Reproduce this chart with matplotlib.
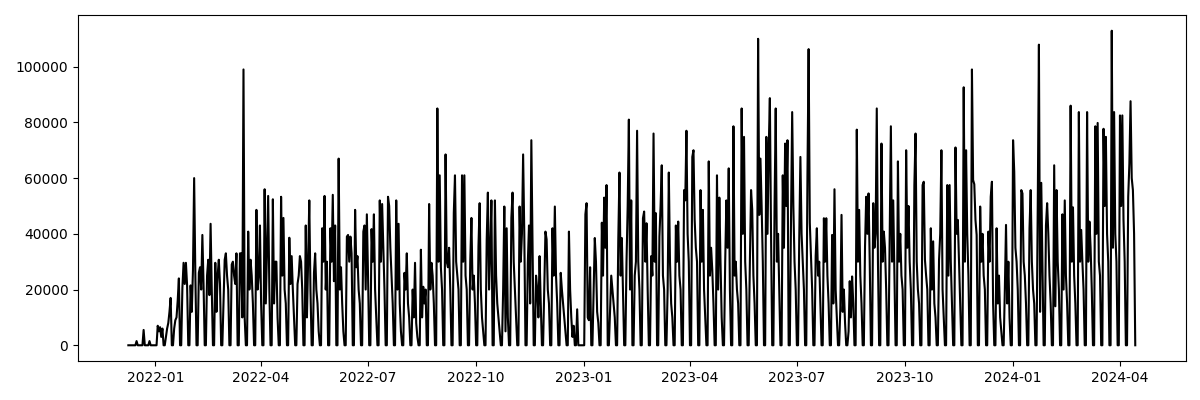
import matplotlib
matplotlib.use("Agg")
import matplotlib.pyplot as plt
import numpy as np
import pandas as pd

# daily values in thousands, one row per week (Mon..Sun), weekends are zero
# first row starts on Thursday 2021-12-09, last row ends on Sunday 2024-04-14
start_date = "2021-12-09"
weeks_k = [
    [0, 0, 0, 0],
    [0, 0, 0, 1.5, 0, 0, 0],
    [0, 0, 5.5, 0, 0, 0, 0],
    [1.5, 0, 0, 0, 0, 0, 0],
    [7, 5, 6.5, 3, 6, 0, 0],
    [3, 6, 8, 12, 17, 0, 0],
    [6, 9, 10, 16, 24, 0, 0],
    [20.6, 29.6, 22, 29.6, 21.5, 0, 0],
    [21.5, 12, 27, 60, 26, 0, 0],
    [26, 28, 20, 39.6, 22, 0, 0],
    [25, 30.7, 18, 43.6, 20, 0, 0],
    [29.6, 12, 25, 30.7, 22, 0, 0],
    [15, 30.7, 33, 25, 20, 0, 0],
    [29, 30, 25, 22, 33, 0, 0],
    [33, 33, 10, 99, 10, 0, 0],
    [40.8, 20, 30.7, 25, 15, 0, 0],
    [48.6, 20, 25, 43, 15, 0, 0],
    [56, 15, 35, 53.6, 20, 0, 0],
    [52.4, 15, 30, 30, 10, 0, 0],
    [53.3, 25, 45.7, 20, 15, 0, 0],
    [38.6, 22, 32, 20, 10, 0, 0],
    [22, 25, 32, 30, 20, 0, 0],
    [43, 10, 30, 52, 20, 0, 0],
    [26, 33, 20, 15, 5, 0, 0],
    [42, 30, 53.6, 20, 30, 0, 0],
    [42, 30, 54, 23, 43, 0, 0],
    [67, 20, 28, 15, 5, 0, 0],
    [39, 39.6, 30, 39, 33, 0, 0],
    [48.6, 28, 32, 20, 15, 0, 0],
    [40.8, 43, 20, 47, 25, 0, 0],
    [41.7, 30, 47, 20, 10, 0, 0],
    [52, 30, 50.7, 35, 20, 0, 0],
    [53.3, 50, 35, 25, 15, 0, 0],
    [52, 20, 43.6, 15, 5, 0, 0],
    [26, 20, 33, 15, 10, 0, 0],
    [20, 10, 29.6, 8, 3, 0, 0],
    [34.3, 10, 21, 15, 20, 0, 0],
    [50.7, 20, 29.6, 25, 15, 0, 0],
    [85, 30, 61, 28, 20, 0, 0],
    [68.5, 30, 28, 35, 20, 0, 0],
    [47.5, 61, 30, 25, 20, 0, 0],
    [61, 30, 61, 25, 20, 0, 0],
    [30, 45.7, 20, 25, 15, 0, 0],
    [35.5, 51, 20, 10, 5, 0, 0],
    [37.8, 54.8, 20, 34.3, 52, 0, 0],
    [52, 25, 15, 10, 5, 0, 0],
    [20, 49.8, 5, 42, 10, 0, 0],
    [45.7, 54.8, 30, 20, 10, 0, 0],
    [49.8, 30, 40, 68.5, 40, 0, 0],
    [29.6, 43, 15, 73.6, 35, 0, 0],
    [25, 20, 10, 32, 15, 0, 0],
    [21, 40.8, 38, 20, 15, 0, 0],
    [42, 25, 49.8, 25, 15, 0, 0],
    [26, 20, 15, 10, 5, 0, 0],
    [40.8, 20, 10, 3, 7, 0, 0],
    [12.9, 0, 0, 0, 0, 0, 0],
    [47, 51, 10, 9, 28, 0, 0],
    [20, 38.5, 30, 12, 8, 0, 0],
    [44, 25, 53, 35, 57.5, 0, 0],
    [12, 25, 20, 15, 10, 0, 0],
    [38, 62, 25, 38.5, 20, 0, 0],
    [30, 50, 81, 20, 52, 0, 0],
    [25, 30, 77, 30, 20, 0, 0],
    [45.6, 48, 30, 43.8, 20, 0, 0],
    [32, 25, 76, 30, 47.4, 0, 0],
    [39, 50, 64.6, 25, 20, 0, 0],
    [20, 62, 30, 15, 10, 0, 0],
    [43, 30, 44.4, 25, 20, 0, 0],
    [55.7, 52, 77, 40, 30, 0, 0],
    [67.6, 70, 45, 35, 30, 0, 0],
    [55.7, 30, 48.6, 20, 10, 0, 0],
    [66, 25, 35, 27, 15, 0, 0],
    [61, 20, 53, 30, 10, 0, 0],
    [30, 52, 35, 63.5, 20, 0, 0],
    [78.6, 25, 30, 20, 15, 0, 0],
    [85, 40, 74.8, 30, 20, 0, 0],
    [30, 55.7, 48.6, 25, 15, 0, 0],
    [110, 46.8, 67, 50, 30, 0, 0],
    [74.8, 40, 70, 88.7, 40, 0, 0],
    [50, 85, 30, 40, 20, 0, 0],
    [61, 35, 72.4, 50, 73.6, 0, 0],
    [45, 83.7, 50, 30, 20, 0, 0],
    [37.8, 67.6, 40, 30, 20, 0, 0],
    [61, 106.3, 44, 32, 20, 0, 0],
    [32, 42, 25, 30, 15, 0, 0],
    [45.6, 30, 45.6, 25, 15, 0, 0],
    [39.6, 15, 56, 20, 10, 0, 0],
    [13.5, 46.8, 12, 20, 8, 0, 0],
    [5, 23, 10, 24.7, 15, 0, 0],
    [77.4, 30, 48.6, 25, 15, 0, 0],
    [35.5, 53.3, 40, 54.5, 30, 0, 0],
    [51, 35, 40, 85, 30, 0, 0],
    [72.4, 30, 40.8, 35, 20, 0, 0],
    [40, 78.6, 30, 52, 25, 0, 0],
    [66, 30, 40, 25, 20, 0, 0],
    [70, 35, 50, 30, 20, 0, 0],
    [57.5, 76, 30, 20, 15, 0, 0],
    [57.5, 58.7, 30.7, 25, 20, 0, 0],
    [42, 20, 37.3, 15, 10, 0, 0],
    [30.7, 40, 70, 20, 10, 0, 0],
    [57.5, 25, 57.5, 30, 15, 0, 0],
    [71, 40, 45, 30, 15, 0, 0],
    [92.6, 30, 70, 40, 25, 0, 0],
    [99, 59.3, 57.8, 45, 39.6, 0, 0],
    [49.8, 30, 40, 25, 20, 0, 0],
    [40.8, 30, 53.3, 58.7, 15, 0, 0],
    [42, 15, 25, 10, 5, 0, 0],
    [20, 43.2, 15, 30, 10, 0, 0],
    [73.6, 62.3, 35, 30, 20, 0, 0],
    [55.7, 54.5, 30, 25, 15, 0, 0],
    [42, 55.7, 30, 20, 15, 0, 0],
    [49.5, 107.9, 12, 58.3, 30, 0, 0],
    [43, 51, 40, 25, 15, 0, 0],
    [64.6, 14, 55.7, 30, 20, 0, 0],
    [47, 20, 52, 25, 15, 0, 0],
    [86, 30, 49.5, 25, 15, 0, 0],
    [83.7, 30, 41.4, 30, 20, 0, 0],
    [83.7, 30, 44.4, 35, 20, 0, 0],
    [78.6, 40, 79.8, 30, 25, 0, 0],
    [77.7, 50, 74.8, 40, 30, 0, 0],
    [112.9, 35, 83.7, 40, 30, 0, 0],
    [82.5, 50, 82.5, 45, 30, 0, 0],
    [53.3, 65.2, 87.6, 60, 55.7, 40, 0],
]

values = np.array([v for week in weeks_k for v in week]) * 1000
dates = pd.date_range(start_date, periods=len(values), freq="D")

fig, ax = plt.subplots(figsize=(12, 4), dpi=100)
plt.subplots_adjust(left=0.065, right=0.988, top=0.9625, bottom=0.0975)

ax.plot(dates, values, color="black", linewidth=1.5)

fig.savefig("out.png")
